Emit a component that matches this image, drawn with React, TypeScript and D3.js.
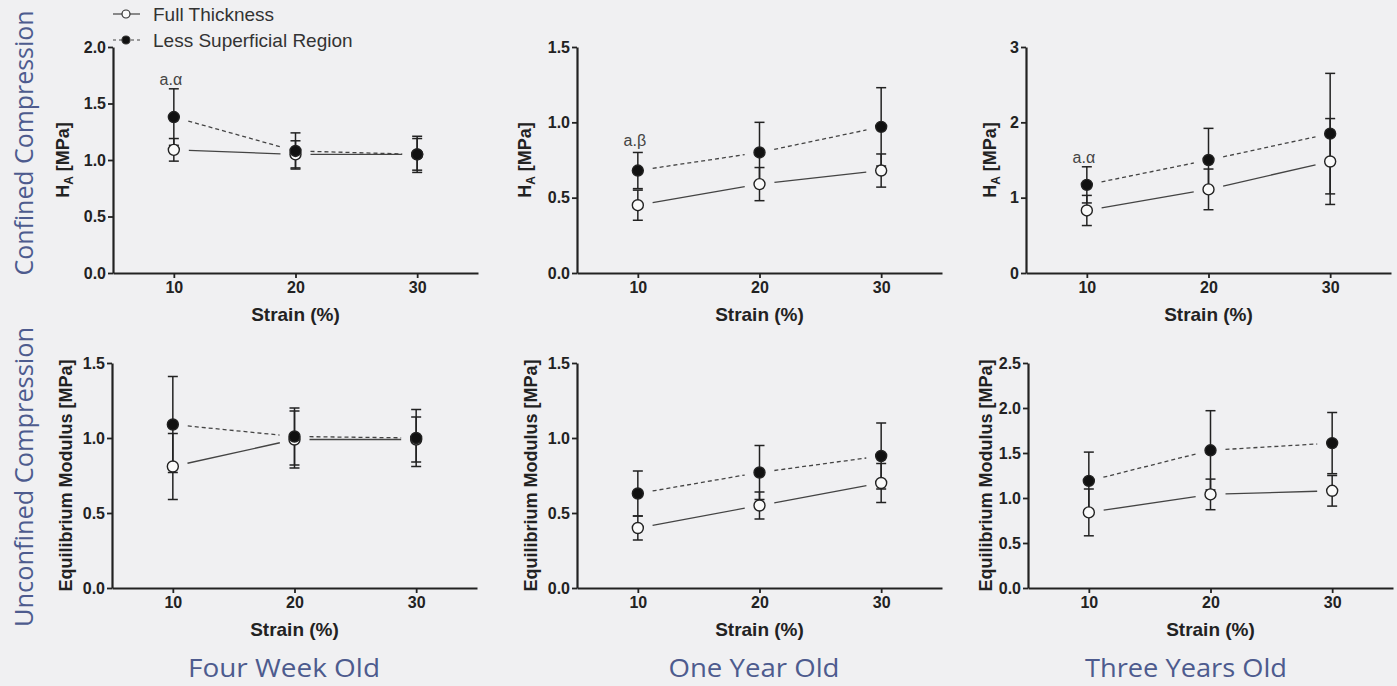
import React, { useEffect, useRef } from "react";
import * as d3 from "d3";

const strains = [10, 20, 30];

// confined compression, aggregate modulus H_A [MPa]
const ccWeekFull = [1.09, 1.05, 1.05];
const ccWeekFullSd = [0.1, 0.12, 0.14];
const ccWeekLsr = [1.38, 1.08, 1.05];
const ccWeekLsrSd = [0.25, 0.16, 0.16];

const ccYearFull = [0.45, 0.59, 0.68];
const ccYearFullSd = [0.1, 0.11, 0.11];
const ccYearLsr = [0.68, 0.8, 0.97];
const ccYearLsrSd = [0.12, 0.2, 0.26];

const ccThreeFull = [0.83, 1.11, 1.48];
const ccThreeFullSd = [0.2, 0.27, 0.57];
const ccThreeLsr = [1.17, 1.5, 1.85];
const ccThreeLsrSd = [0.24, 0.42, 0.8];

// unconfined compression, equilibrium modulus [MPa]
const ucWeekFull = [0.81, 0.99, 0.99];
const ucWeekFullSd = [0.22, 0.19, 0.15];
const ucWeekLsr = [1.09, 1.01, 1.0];
const ucWeekLsrSd = [0.32, 0.19, 0.19];

const ucYearFull = [0.4, 0.55, 0.7];
const ucYearFullSd = [0.08, 0.09, 0.13];
const ucYearLsr = [0.63, 0.77, 0.88];
const ucYearLsrSd = [0.15, 0.18, 0.22];

const ucThreeFull = [0.84, 1.04, 1.08];
const ucThreeFullSd = [0.26, 0.17, 0.17];
const ucThreeLsr = [1.19, 1.53, 1.61];
const ucThreeLsrSd = [0.32, 0.44, 0.34];

const yTicksA = [0, 0.5, 1.0, 1.5, 2.0];
const yTicksB = [0, 0.5, 1.0, 1.5];
const yTicksC = [0, 1, 2, 3];
const yTicksD = [0, 0.5, 1.0, 1.5, 2.0, 2.5];

const columnTitles = ["Four Week Old", "One Year Old", "Three Years Old"];
const rowTitles = ["Confined Compression", "Unconfined Compression"];
const seriesNames = ["Full Thickness", "Less Superficial Region"];

const W = 1397;
const H = 686;
const BG = "#f0f0f2";
const INK = "#222";
const TITLE = "#4d5b8e";

const panels = [
  { left: 113, top: 47, bottom: 273, yMax: 2, ticks: yTicksA, fmt: ".1f", label: "HA", full: ccWeekFull, fullSd: ccWeekFullSd, lsr: ccWeekLsr, lsrSd: ccWeekLsrSd, note: "a.α", noteY: 1.71, labelX: 63 },
  { left: 577, top: 47, bottom: 273, yMax: 1.5, ticks: yTicksB, fmt: ".1f", label: "HA", full: ccYearFull, fullSd: ccYearFullSd, lsr: ccYearLsr, lsrSd: ccYearLsrSd, note: "a.β", noteY: 0.88, labelX: 525 },
  { left: 1026, top: 47, bottom: 273, yMax: 3, ticks: yTicksC, fmt: "d", label: "HA", full: ccThreeFull, fullSd: ccThreeFullSd, lsr: ccThreeLsr, lsrSd: ccThreeLsrSd, note: "a.α", noteY: 1.54, labelX: 990 },
  { left: 112, top: 363, bottom: 588, yMax: 1.5, ticks: yTicksB, fmt: ".1f", label: "EM", full: ucWeekFull, fullSd: ucWeekFullSd, lsr: ucWeekLsr, lsrSd: ucWeekLsrSd, note: null, noteY: 0, labelX: 66 },
  { left: 577, top: 363, bottom: 588, yMax: 1.5, ticks: yTicksB, fmt: ".1f", label: "EM", full: ucYearFull, fullSd: ucYearFullSd, lsr: ucYearLsr, lsrSd: ucYearLsrSd, note: null, noteY: 0, labelX: 531 },
  { left: 1028, top: 363, bottom: 588, yMax: 2.5, ticks: yTicksD, fmt: ".1f", label: "EM", full: ucThreeFull, fullSd: ucThreeFullSd, lsr: ucThreeLsr, lsrSd: ucThreeLsrSd, note: null, noteY: 0, labelX: 986 },
];

const App = () => {
  const svgRef = useRef(null);

  useEffect(() => {
    const svg = d3.select(svgRef.current);
    svg.selectAll("*").remove();

    svg.append("rect").attr("width", W).attr("height", H).attr("fill", BG);

    panels.forEach((p) => {
      const x = d3.scaleLinear().domain([5, 35]).range([p.left, p.left + 365]);
      const y = d3.scaleLinear().domain([0, p.yMax]).range([p.bottom, p.top]);
      const g = svg.append("g");

      // axes
      const yAxis = g
        .append("g")
        .attr("transform", `translate(${p.left},0)`)
        .call(d3.axisLeft(y).tickValues(p.ticks).tickFormat(d3.format(p.fmt)).tickSize(5).tickSizeOuter(0).tickPadding(2));
      const xAxis = g
        .append("g")
        .attr("transform", `translate(0,${p.bottom})`)
        .call(d3.axisBottom(x).tickValues(strains).tickSize(5).tickSizeOuter(0).tickPadding(4));
      [yAxis, xAxis].forEach((a) => {
        a.select(".domain").attr("stroke", INK).attr("stroke-width", 2.2);
        a.selectAll(".tick line").attr("stroke", INK).attr("stroke-width", 1.8);
        a.selectAll("text")
          .attr("fill", INK)
          .style("font-family", "Arial, 'Liberation Sans', sans-serif")
          .style("font-weight", "bold")
          .style("font-size", "16px");
      });

      g.append("text")
        .attr("x", (p.left + p.left + 365) / 2)
        .attr("y", p.bottom + 48)
        .attr("text-anchor", "middle")
        .attr("fill", INK)
        .style("font-family", "Arial, 'Liberation Sans', sans-serif")
        .style("font-weight", "bold")
        .style("font-size", "19px")
        .text("Strain (%)");

      const yl = g
        .append("text")
        .attr("transform", `translate(${p.labelX},${(p.top + p.bottom) / 2}) rotate(-90)`)
        .attr("text-anchor", "middle")
        .attr("dy", "0.35em")
        .attr("fill", INK)
        .style("font-family", "Arial, 'Liberation Sans', sans-serif")
        .style("font-weight", "bold")
        .style("font-size", "18px");
      if (p.label === "HA") {
        yl.append("tspan").text("H");
        yl.append("tspan").attr("dy", 4).style("font-size", "12px").text("A");
        yl.append("tspan").attr("dy", -4).text(" [MPa]");
      } else {
        yl.text("Equilibrium Modulus [MPa]");
      }

      const series = [
        { m: p.full, sd: p.fullSd, open: true },
        { m: p.lsr, sd: p.lsrSd, open: false },
      ];

      // error bars
      series.forEach((s) => {
        s.m.forEach((v, i) => {
          const cx = x(strains[i]);
          const lo = y(v - s.sd[i]);
          const hi = y(v + s.sd[i]);
          g.append("line").attr("x1", cx).attr("x2", cx).attr("y1", lo).attr("y2", hi).attr("stroke", INK).attr("stroke-width", 1.5);
          [lo, hi].forEach((yy) =>
            g.append("line").attr("x1", cx - 5).attr("x2", cx + 5).attr("y1", yy).attr("y2", yy).attr("stroke", INK).attr("stroke-width", 1.5)
          );
        });
      });

      // connecting segments with gaps around markers
      series.forEach((s) => {
        for (let i = 0; i < s.m.length - 1; i++) {
          const x0 = x(strains[i]);
          const y0 = y(s.m[i]);
          const x1 = x(strains[i + 1]);
          const y1 = y(s.m[i + 1]);
          const len = Math.hypot(x1 - x0, y1 - y0);
          const ux = (x1 - x0) / len;
          const uy = (y1 - y0) / len;
          const gap = 15;
          g.append("line")
            .attr("x1", x0 + ux * gap)
            .attr("y1", y0 + uy * gap)
            .attr("x2", x1 - ux * gap)
            .attr("y2", y1 - uy * gap)
            .attr("stroke", "#444")
            .attr("stroke-width", 1.3)
            .attr("stroke-dasharray", s.open ? null : "4,3");
        }
      });

      // markers
      series.forEach((s) => {
        g.selectAll(null)
          .data(s.m)
          .enter()
          .append("circle")
          .attr("cx", (d, i) => x(strains[i]))
          .attr("cy", (d) => y(d))
          .attr("r", 5.5)
          .attr("fill", s.open ? "#fafafa" : "#111")
          .attr("stroke", INK)
          .attr("stroke-width", 1.4);
      });

      if (p.note) {
        g.append("text")
          .attr("x", x(10) - 3)
          .attr("y", y(p.noteY))
          .attr("dy", "0.35em")
          .attr("text-anchor", "middle")
          .attr("fill", "#444")
          .style("font-family", "Arial, 'Liberation Sans', sans-serif")
          .style("font-size", "16px")
          .text(p.note);
      }
    });

    // legend
    const lg = svg.append("g").style("font-family", "Arial, 'Liberation Sans', sans-serif");
    [0, 1].forEach((k) => {
      const yy = 14 + k * 26;
      lg.append("line")
        .attr("x1", 113)
        .attr("x2", 140)
        .attr("y1", yy)
        .attr("y2", yy)
        .attr("stroke", "#444")
        .attr("stroke-width", 1.2)
        .attr("stroke-dasharray", k === 0 ? null : "3,3");
      lg.append("circle")
        .attr("cx", 126)
        .attr("cy", yy)
        .attr("r", 4)
        .attr("fill", k === 0 ? "#fafafa" : "#111")
        .attr("stroke", "#333")
        .attr("stroke-width", 1.2);
      lg.append("text")
        .attr("x", 153)
        .attr("y", yy)
        .attr("dy", "0.35em")
        .attr("fill", "#333")
        .style("font-size", "19px")
        .text(seriesNames[k]);
    });

    // row and column titles
    const titleFont = "'Open Sans', 'Noto Sans', sans-serif";
    const rowCenters = [143, 477];
    const rowLengths = [265, 300];
    rowTitles.forEach((t, k) => {
      svg
        .append("text")
        .attr("transform", `translate(33,${rowCenters[k]}) rotate(-90)`)
        .attr("text-anchor", "middle")
        .attr("fill", TITLE)
        .attr("textLength", rowLengths[k])
        .attr("lengthAdjust", "spacingAndGlyphs")
        .style("font-family", titleFont)
        .style("font-size", "26px")
        .text(t);
    });
    const colCenters = [284, 754, 1186];
    const colLengths = [192, 171, 202];
    columnTitles.forEach((t, k) => {
      svg
        .append("text")
        .attr("x", colCenters[k])
        .attr("y", 677)
        .attr("text-anchor", "middle")
        .attr("fill", TITLE)
        .attr("textLength", colLengths[k])
        .attr("lengthAdjust", "spacingAndGlyphs")
        .style("font-family", titleFont)
        .style("font-size", "26px")
        .text(t);
    });
  }, []);

  return (
    <svg
      ref={svgRef}
      width={W}
      height={H}
      style={{ position: "absolute", left: 0, top: 0, display: "block" }}
    />
  );
};

export default App;
